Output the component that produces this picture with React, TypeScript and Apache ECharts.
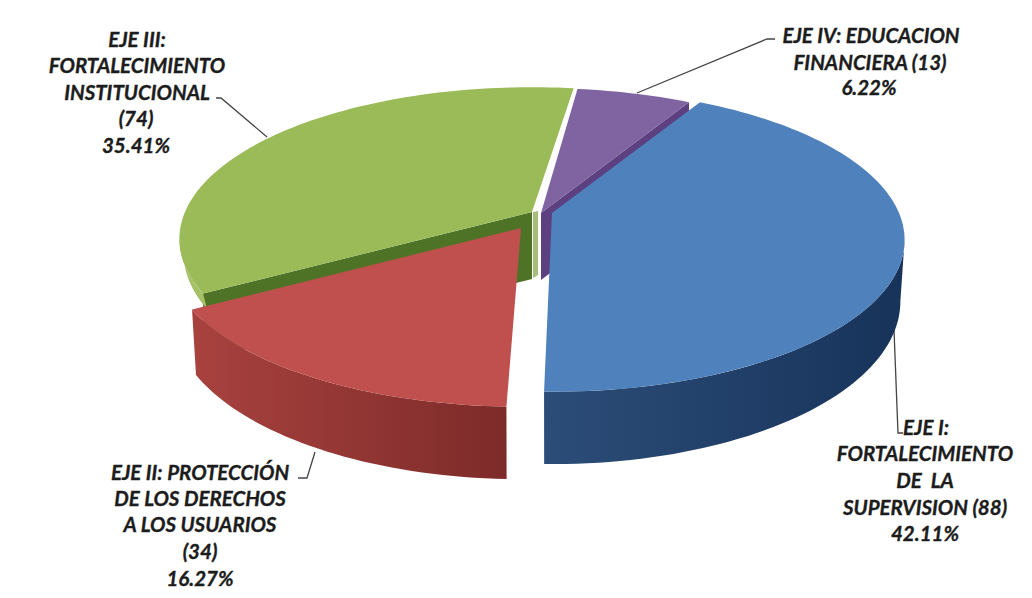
import React, { useEffect, useRef } from "react";
import * as echarts from "echarts";

const axes = ["EJE I", "EJE II", "EJE III", "EJE IV"];
const counts = [88, 34, 74, 13];
const labelsI = ["EJE I:", "FORTALECIMIENTO", "DE  LA", "SUPERVISION (88)", "42.11%"];
const labelsII = ["EJE II: PROTECCIÓN", "DE LOS DERECHOS", "A LOS USUARIOS", "(34)", "16.27%"];
const labelsIII = ["EJE III:", "FORTALECIMIENTO", "INSTITUCIONAL", "(74)", "35.41%"];
const labelsIV = ["EJE IV: EDUCACION", "FINANCIERA (13)", "6.22%"];

// projection of the tilted disc
const RX = 347, RY = 147, K = 0.1776, DEPTH = 59.5, START = 29.5;
const centers = [[552, 213], [521, 228], [532, 212], [541, 213]];
// small corrections of the visible edge of a slice, in degrees
const startNudge = [0, 0.9, 0, 0];
const endNudge = [0, 0, 1, 0];
const tops = ["#4f81bd", "#c0504d", "#9bbb59", "#8064a2"];
const walls: any[] = [
  ["#2c4d78", "#17335a"],
  ["#a8423f", "#7d2b29"],
  ["#a6c066", "#a6c066"],
  ["#5f4a7d", "#5f4a7d"],
];
const cuts = ["#2c4d75", "#7d2b29", "#4f7326", "#5c4080"];

const total = counts.reduce((a, b) => a + b, 0);
function proj(deg: number) {
  const t = (deg * Math.PI) / 180;
  const w = 1 + K * Math.cos(t);
  return [(RX * Math.sin(t)) / w, (-RY * Math.cos(t)) / w, w];
}
function arc(i: number, a0: number, a1: number, depth: number) {
  const n = Math.max(2, Math.ceil(Math.abs(a1 - a0) / 1.5));
  const pts: number[][] = [];
  for (let k = 0; k <= n; k++) {
    const p = proj(a0 + ((a1 - a0) * k) / n);
    const shrink = depth > 0 ? 0.988 : 1;
    pts.push([centers[i][0] + p[0] * shrink, centers[i][1] + p[1] + depth / p[2]]);
  }
  return pts;
}
function grad(c: string[]) {
  return new echarts.graphic.LinearGradient(0, 0, 1, 0, [
    { offset: 0, color: c[0] },
    { offset: 1, color: c[1] },
  ]);
}
const FRONT_A = 100.2, FRONT_B = 259.8;

function renderSlice(params: any, api: any) {
  const i = api.value(0);
  let a0 = START;
  for (let k = 0; k < i; k++) a0 += (counts[k] / total) * 360;
  const a1 = a0 + (api.value(1) / total) * 360 + endNudge[i];
  a0 += startNudge[i];
  const [cx, cy] = centers[i];
  const children: any[] = [];
  const face = (deg: number) => {
    const p = proj(deg);
    const e = [cx + p[0], cy + p[1]];
    children.push({
      type: "polygon",
      shape: { points: [[cx, cy], e, [e[0], e[1] + 66], [cx, cy + 67]] },
      style: { fill: cuts[i] },
    });
  };
  if (i === 2) {
    face(a0);
    const p = [[cx + 1, cy], [cx + 6, cy - 1], [cx + 6, cy + 63], [cx + 1, cy + 66]];
    children.push({ type: "polygon", shape: { points: p }, style: { fill: "#a8bd78" } });
  }
  if (i === 3) face(a1);
  // outer wall; the green one only shows as a thin sliver in the picture
  const wa = Math.max(a0, FRONT_A), wb = Math.min(a1, FRONT_B);
  if (wb > wa) {
    const d = i === 2 ? 14 : DEPTH;
    const up = arc(i, wa, wb, 0);
    const down = arc(i, wb, wa, d);
    children.push({
      type: "polygon",
      shape: { points: up.concat(down) },
      style: { fill: grad(walls[i]) },
    });
  }
  // top
  children.push({
    type: "polygon",
    shape: { points: [[cx, cy]].concat(arc(i, a0, a1, 0)) },
    style: { fill: tops[i] },
  });
  return { type: "group", children };
}

const font = {
  fontFamily: "Lato",
  fontWeight: "bold",
  fontStyle: "italic",
  fontSize: 20.5,
  fill: "#1c1c1c",
  stroke: "#1c1c1c",
  lineWidth: 0.35,
  textAlign: "center",
  textVerticalAlign: "middle",
  shadowBlur: 3,
  shadowColor: "rgba(0,0,0,0.55)",
};
function block(lines: string[], xs: number[], ys: number[]) {
  return lines.map((t, k) => ({
    type: "text",
    x: xs[k],
    y: ys[k],
    silent: true,
    style: { ...font, text: t },
  }));
}
function leader(points: number[][]) {
  return {
    type: "polyline",
    silent: true,
    shape: { points },
    style: { stroke: "#444", lineWidth: 1.3, fill: "none" },
  };
}

export default function App() {
  const ref = useRef<HTMLDivElement>(null);
  useEffect(() => {
    const chart = echarts.init(ref.current!, undefined, { renderer: "svg" });
    chart.setOption({
      animation: false,
      backgroundColor: "#ffffff",
      xAxis: { show: false },
      yAxis: { show: false },
      series: [
        {
          type: "custom",
          coordinateSystem: "none",
          silent: true,
          renderItem: renderSlice,
          // painted back to front
          data: [3, 2, 1, 0].map((i) => ({ name: axes[i], value: [i, counts[i]] })),
        },
      ],
      graphic: [
        leader([[216, 98], [221, 98], [267, 137]]),
        leader([[637, 93], [767, 39], [775, 39]]),
        leader([[894, 330], [898, 433], [903, 433]]),
        leader([[315, 452], [307, 478], [298, 478]]),
        ...block(labelsIII, [137, 137, 137, 136, 136], [39, 65, 92, 118, 145]),
        ...block(labelsIV, [871, 870, 869], [35, 62, 87]),
        ...block(labelsI, [926, 925, 925, 925, 925], [427, 453, 480, 507, 533]),
        ...block(labelsII, [200, 200, 200, 200, 200], [472, 498, 524, 551, 578]),
      ],
    });
    return () => chart.dispose();
  }, []);
  return <div ref={ref} style={{ position: "fixed", left: 0, top: 0, width: 1032, height: 598 }} />;
}
